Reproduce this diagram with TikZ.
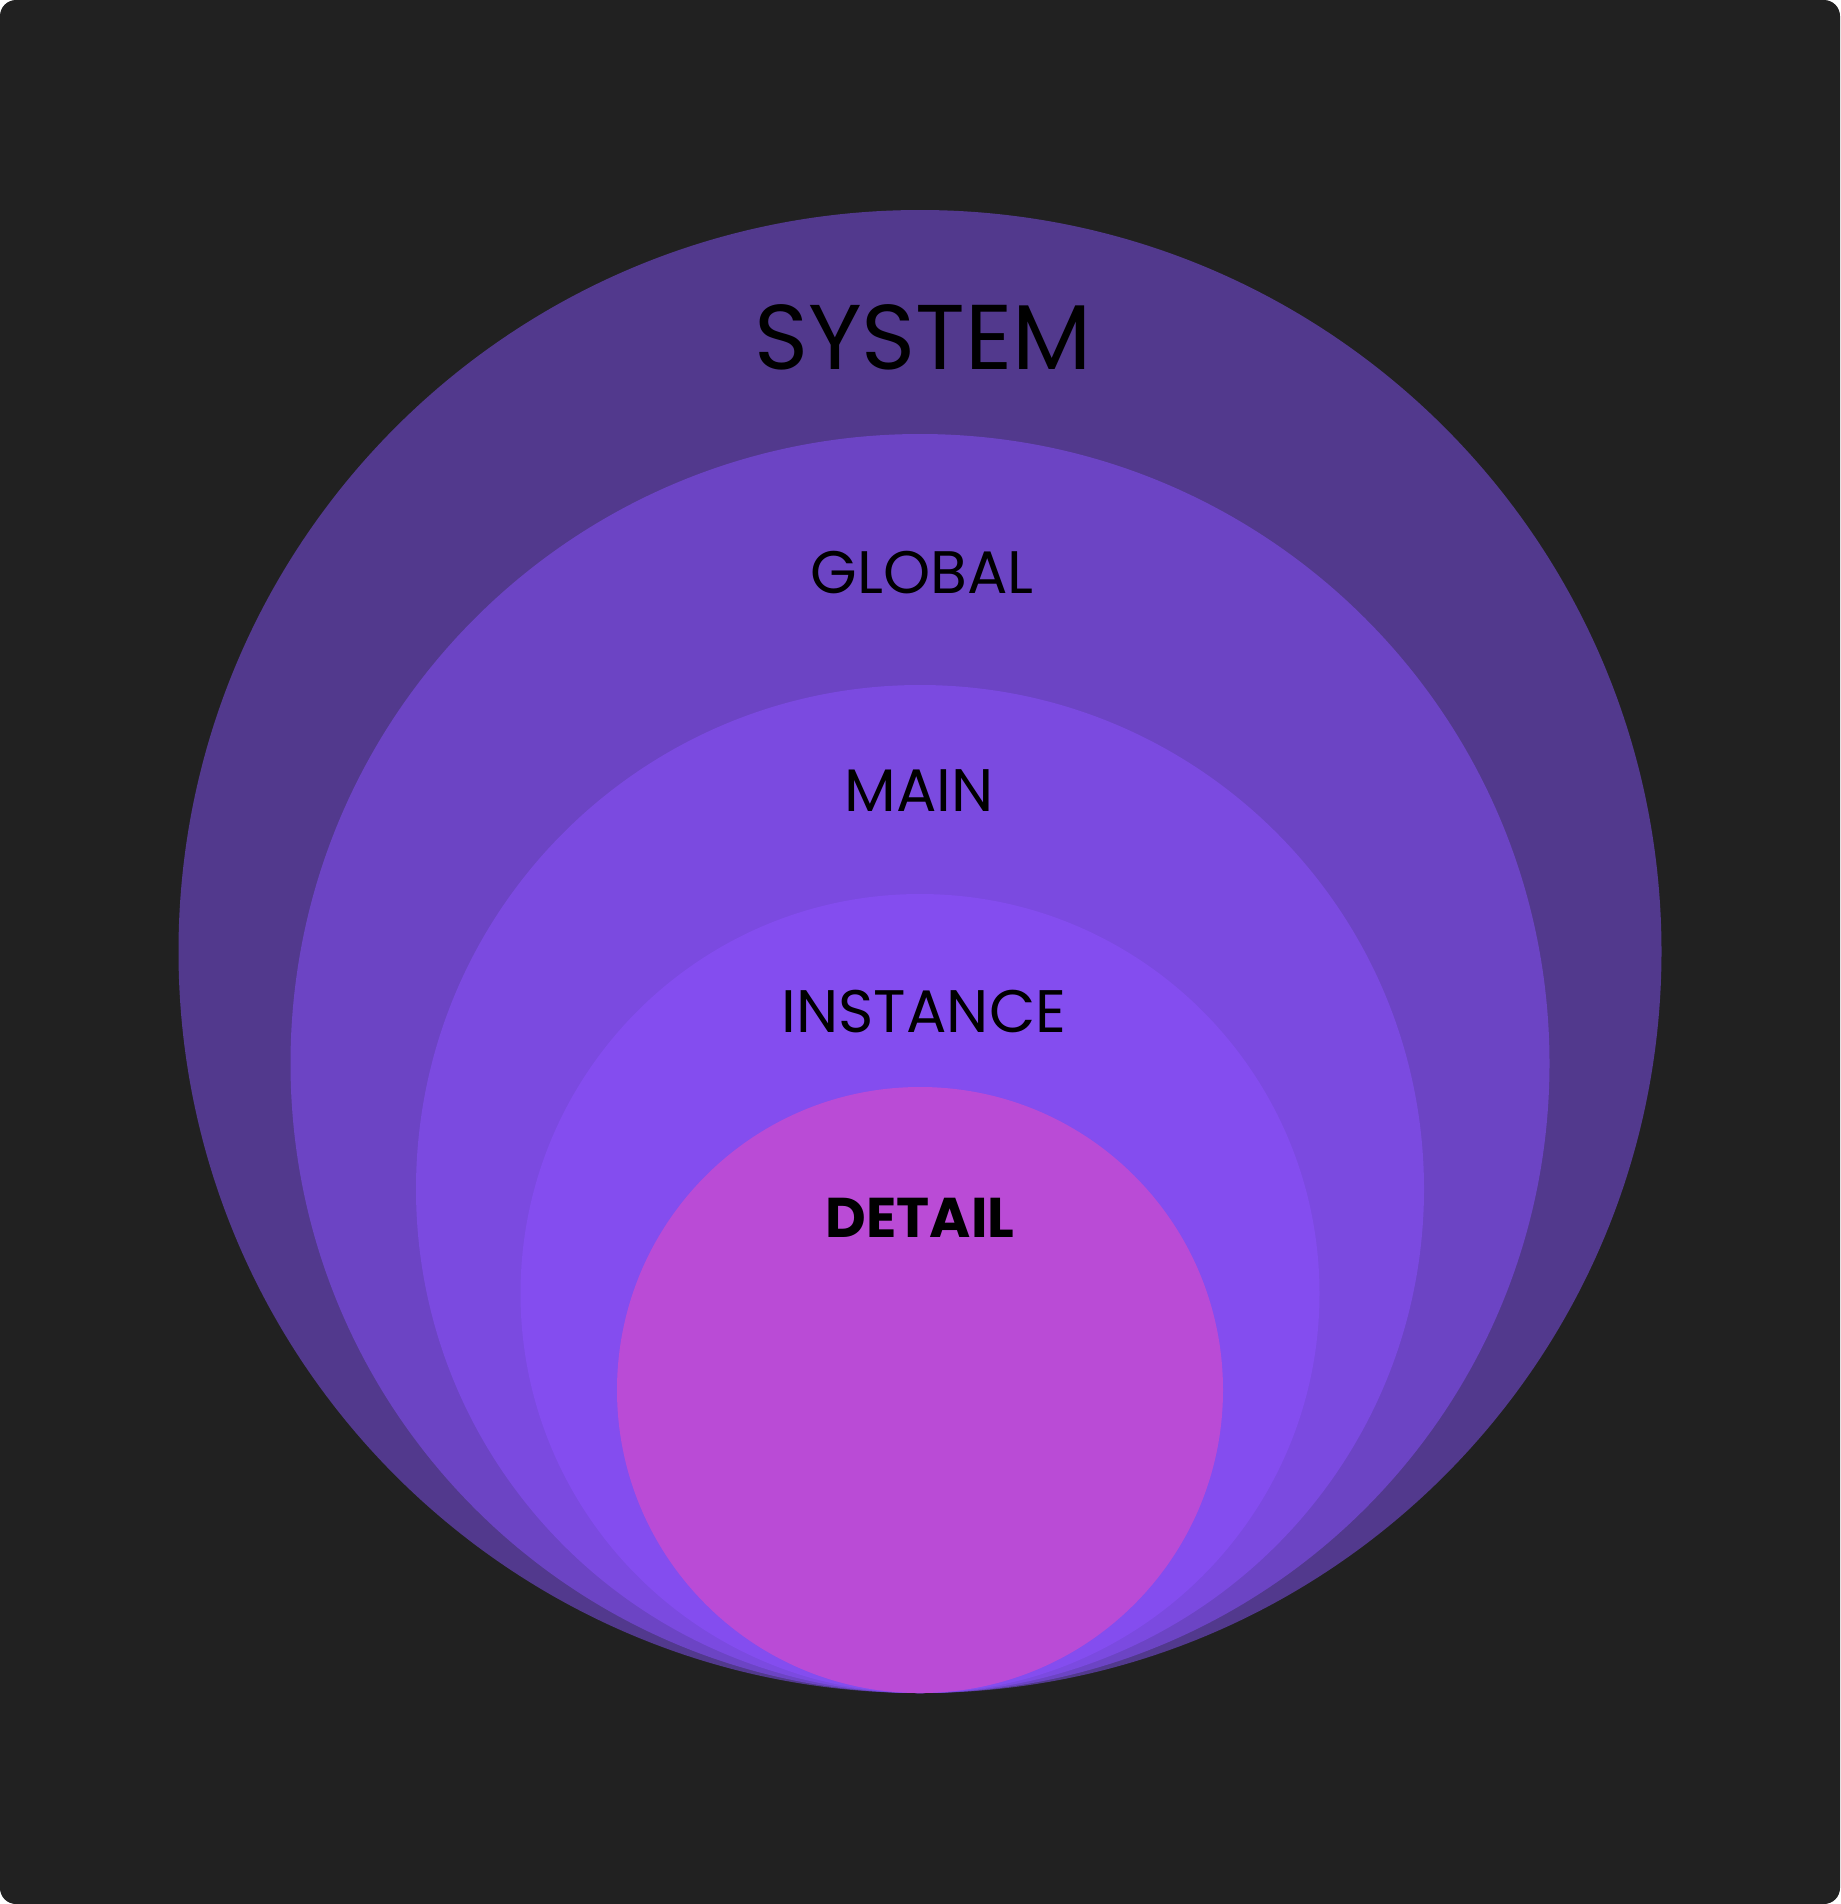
\documentclass[tikz,border=0pt]{standalone}
\usepackage{fontspec}
\setmainfont{Poppins}
\definecolor{bgdark}{HTML}{212121}
\definecolor{csystem}{HTML}{52398D}
\definecolor{cglobal}{HTML}{6C44C4}
\definecolor{cmain}{HTML}{7B4AE0}
\definecolor{cinstance}{HTML}{844DEF}
\definecolor{cdetail}{HTML}{BA4BD6}
\begin{document}
\begin{tikzpicture}[x=1pt,y=-1pt,
  ring/.style={circle,inner sep=0pt,outer sep=0pt,draw=none},
  lbl/.style={text=black,inner sep=0pt,anchor=center},
  lblsmall/.style={lbl,font=\fontsize{60}{60}\selectfont},
  lblbig/.style={lbl,font=\fontsize{92}{92}\selectfont}]
\useasboundingbox (0,0) rectangle (1840,1904);
\fill[white] (0,0) rectangle (1840,1904);
\fill[bgdark,rounded corners=16pt] (0,0) rectangle (1840,1904);
\node[ring,fill=csystem,minimum size=1483pt] (system) at (920,951.5) {};
\node[ring,fill=cglobal,minimum size=1259pt] (global) at (920,1063.5) {};
\node[ring,fill=cmain,minimum size=1008pt] (main) at (920,1189) {};
\node[ring,fill=cinstance,minimum size=799pt] (instance) at (920,1293.5) {};
\node[ring,fill=cdetail,minimum size=606pt] (detail) at (920,1390) {};
\node[lblbig] (tsystem) at (923,337) {SYSTEM};
\node[lblsmall] (tglobal) at (922,573) {GLOBAL};
\node[lblsmall] (tmain) at (919,791) {MAIN};
\node[lblsmall] (tinstance) at (924,1012) {INSTANCE};
\node[lbl,font=\fontsize{56}{56}\selectfont\bfseries] (tdetail) at (920,1218) {DETAIL};
\end{tikzpicture}
\end{document}
